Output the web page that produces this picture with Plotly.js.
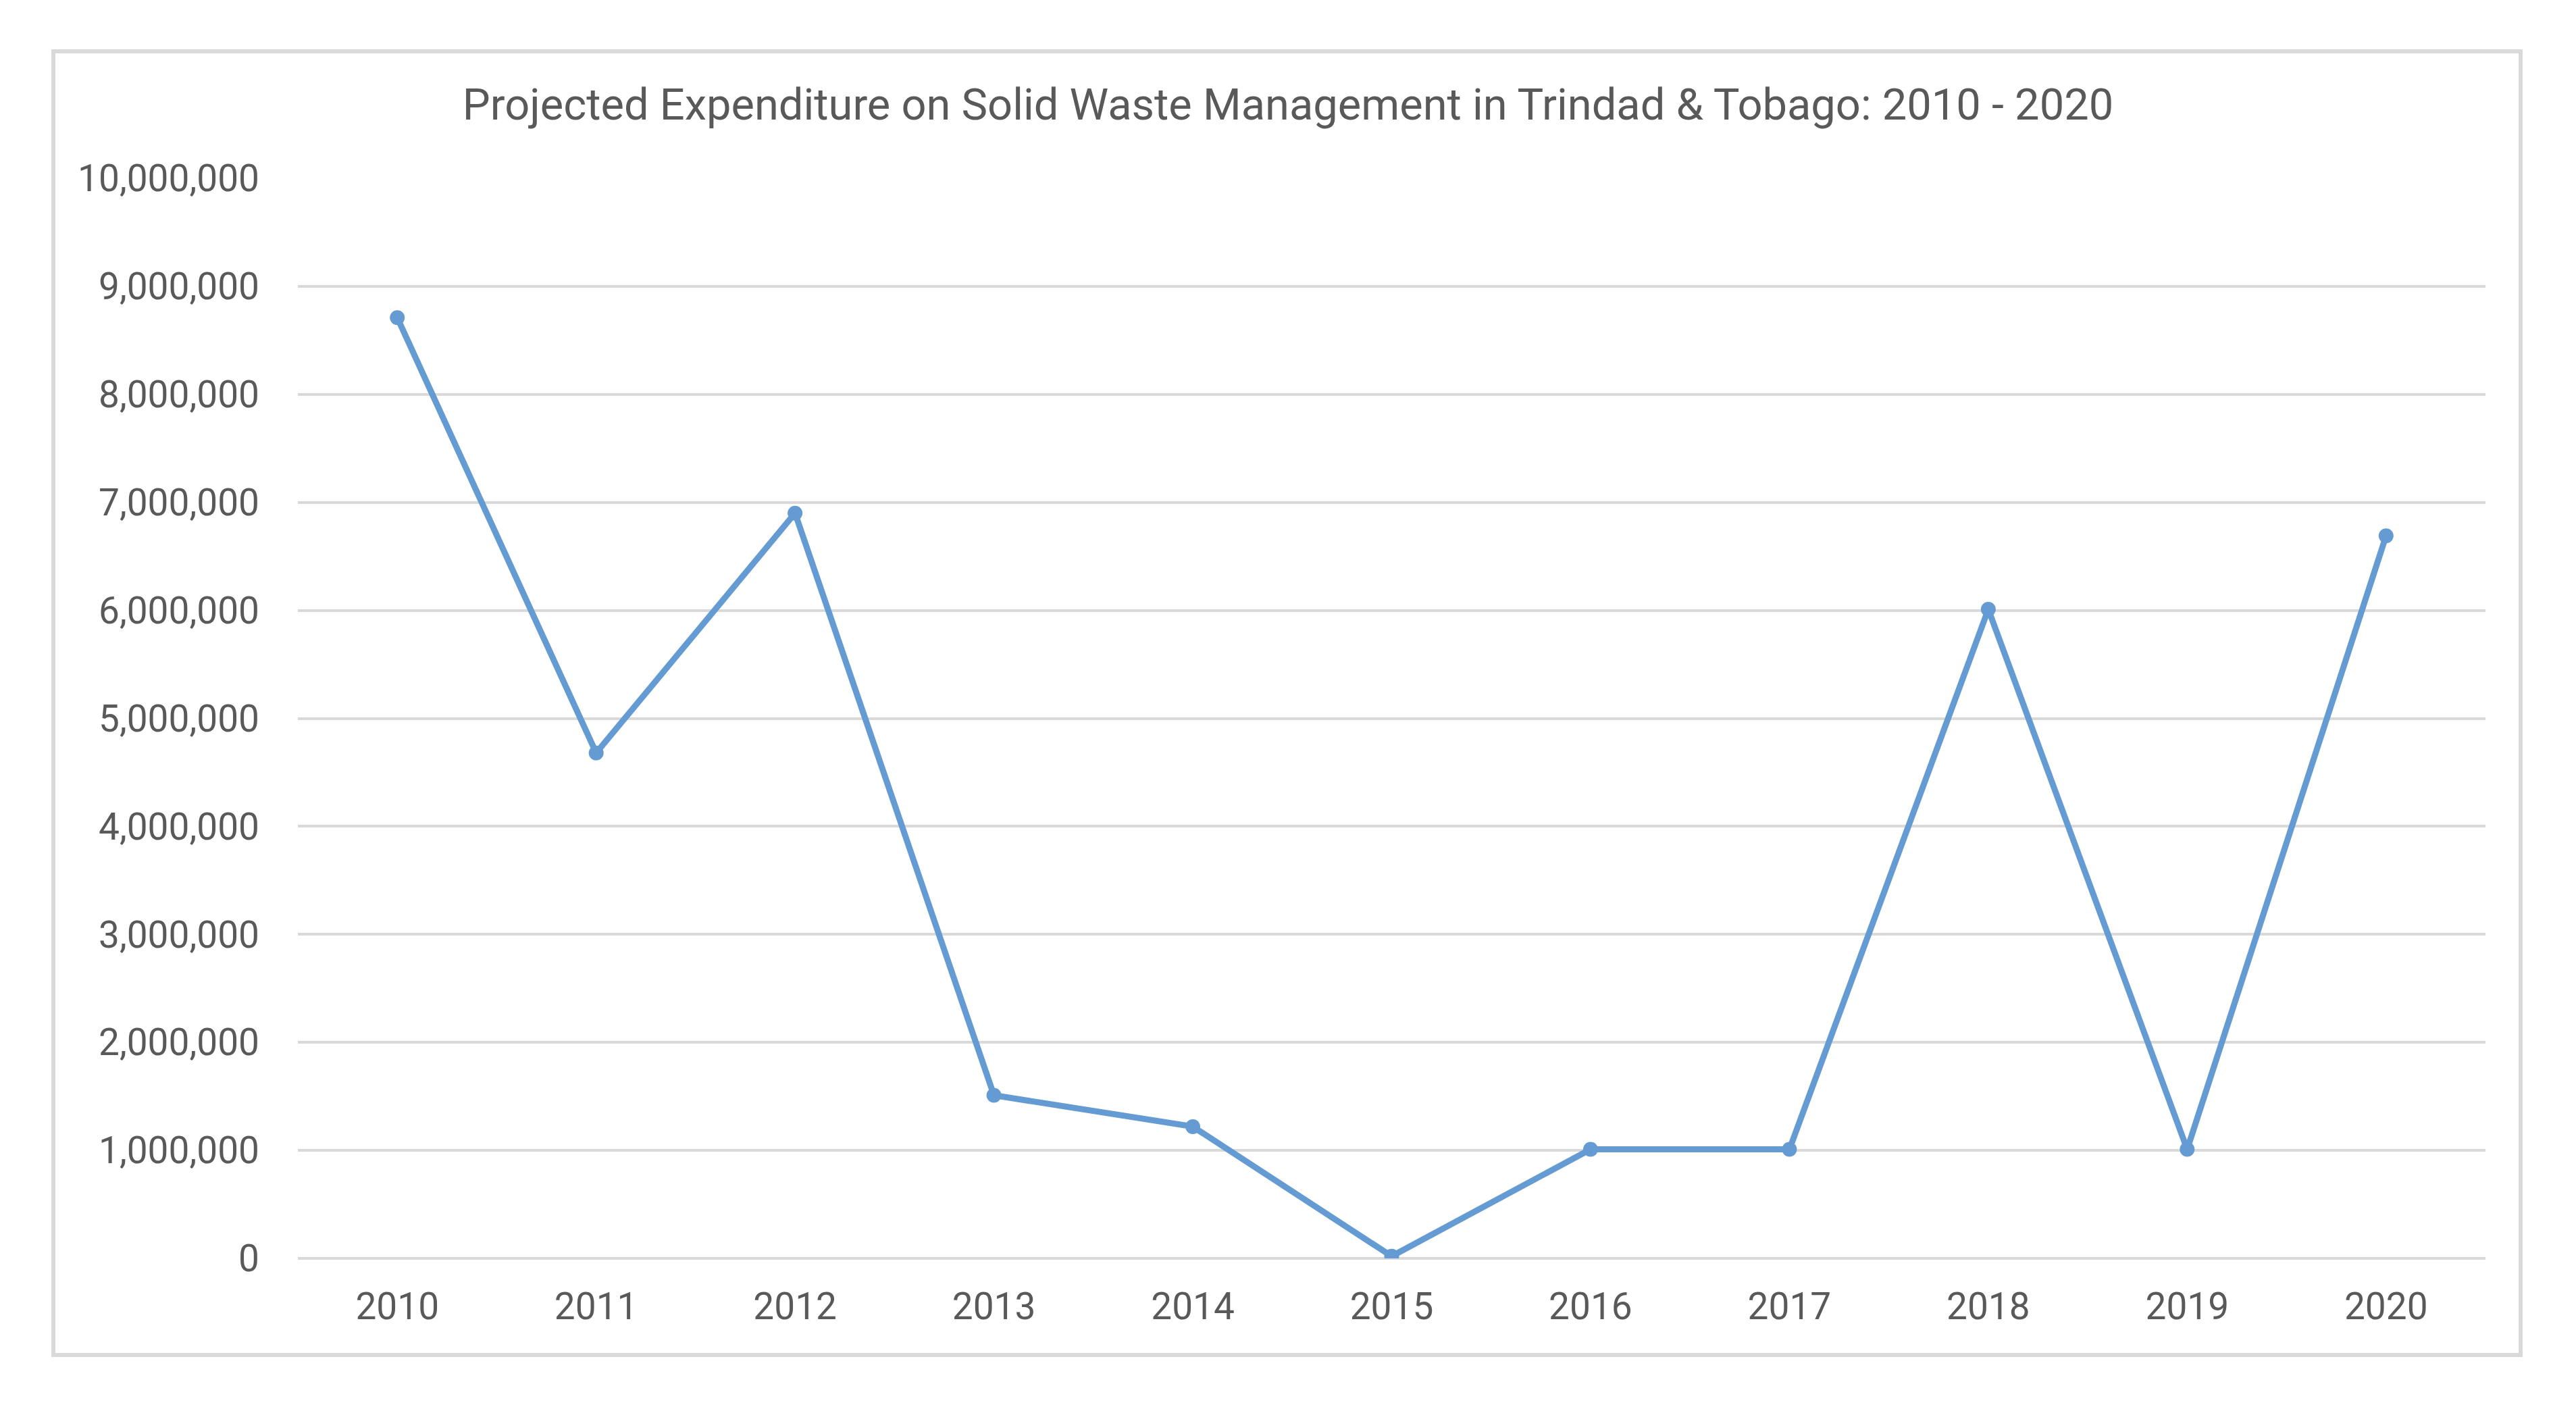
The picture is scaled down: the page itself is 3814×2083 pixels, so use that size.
<!DOCTYPE html>
<html>
<head>
<meta charset="utf-8">
<script src="https://cdn.plot.ly/plotly-3.0.1.min.js"></script>
<style>
  html, body { margin: 0; padding: 0; background: #ffffff; }
  #chart { width: 3814px; height: 2083px; }
</style>
</head>
<body>
<div id="chart"></div>
<script>
const years = ['2010', '2011', '2012', '2013', '2014', '2015', '2016', '2017', '2018', '2019', '2020'];
const expenditure = [8710000, 4680000, 6900000, 1510000, 1220000, 20000, 1010000, 1010000, 6010000, 1010000, 6690000];
const yTicks = [0, 1000000, 2000000, 3000000, 4000000, 5000000, 6000000, 7000000, 8000000, 9000000, 10000000];
const titleText = 'Projected Expenditure on Solid Waste Management in Trindad &amp; Tobago: 2010 - 2020';

const W = 3814, H = 2083;
const L = 441, R = 3680, T = 264, B = 1863;
function px2paperX(px) { return (px - L) / (R - L); }
function px2paperY(py) { return (B - py) / (B - T); }

const trace = {
  x: years,
  y: expenditure,
  type: 'scatter',
  mode: 'lines+markers',
  line: { color: '#659BD3', width: 9 },
  marker: { color: '#659BD3', size: 22, symbol: 'circle' },
  hoverinfo: 'x+y'
};

const layout = {
  width: W,
  height: H,
  paper_bgcolor: '#ffffff',
  plot_bgcolor: '#ffffff',
  margin: { l: L, r: W - R, t: T, b: H - B, pad: 0 },
  showlegend: false,
  font: { family: 'Roboto, sans-serif', color: '#595959', size: 55 },
  title: {
    text: titleText,
    font: { family: 'Roboto, sans-serif', size: 65, color: '#595959' },
    x: 0.5, xref: 'container', xanchor: 'center',
    y: 1 - 154 / H, yref: 'container', yanchor: 'middle'
  },
  xaxis: {
    type: 'category',
    categoryorder: 'array',
    categoryarray: years,
    range: [-0.5, years.length - 0.5],
    showgrid: false,
    zeroline: false,
    showline: false,
    ticks: '',
    ticklabelstandoff: 34,
    tickfont: { family: 'Roboto, sans-serif', size: 55, color: '#595959' },
    fixedrange: true
  },
  yaxis: {
    range: [0, 10000000],
    tickvals: yTicks,
    tickformat: ',d',
    showgrid: true,
    gridcolor: '#D9D9D9',
    gridwidth: 4,
    zeroline: true,
    zerolinecolor: '#D9D9D9',
    zerolinewidth: 4,
    showline: false,
    ticks: '',
    ticklabelstandoff: 56,
    tickfont: { family: 'Roboto, sans-serif', size: 55, color: '#595959' },
    fixedrange: true
  },
  shapes: [{
    type: 'rect',
    xref: 'paper', yref: 'paper',
    x0: px2paperX(79), x1: px2paperX(3732),
    y0: px2paperY(2006), y1: px2paperY(76),
    line: { color: '#D9D9D9', width: 6 },
    fillcolor: 'rgba(0,0,0,0)',
    layer: 'below'
  }]
};

Plotly.newPlot('chart', [trace], layout, { displayModeBar: false, staticPlot: true });
</script>
</body>
</html>
